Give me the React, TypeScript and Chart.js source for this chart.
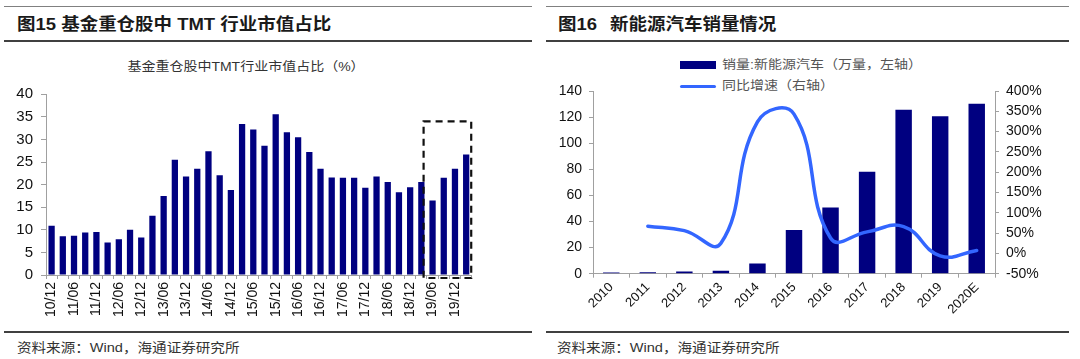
import React, { useEffect, useRef } from 'react';
import { Chart, registerables } from 'chart.js';

Chart.register(...registerables);

// ---------- Data ----------
const quarterLabels = [
  '10/12', '11/03', '11/06', '11/09', '11/12', '12/03', '12/06', '12/09', '12/12',
  '13/03', '13/06', '13/09', '13/12', '14/03', '14/06', '14/09', '14/12',
  '15/03', '15/06', '15/09', '15/12', '16/03', '16/06', '16/09', '16/12',
  '17/03', '17/06', '17/09', '17/12', '18/03', '18/06', '18/09', '18/12',
  '19/03', '19/06', '19/09', '19/12', '20/03',
];
const tmtShare = [
  10.9, 8.6, 8.7, 9.4, 9.5, 7.2, 7.9, 10.0, 8.3,
  13.1, 17.5, 25.5, 21.8, 23.5, 27.4, 22.1, 18.8,
  33.4, 32.2, 28.6, 35.6, 31.6, 30.5, 27.2, 23.5,
  21.6, 21.5, 21.5, 19.3, 21.8, 20.6, 18.3, 19.4,
  20.6, 16.5, 21.5, 23.5, 26.7,
];
const highlightFrom = 33.2;
const highlightTo = 37.45;
const highlightTop = 34;

const years = ['2010', '2011', '2012', '2013', '2014', '2015', '2016', '2017', '2018', '2019', '2020E'];
const nevSales = [1.0, 1.2, 1.6, 2.3, 7.9, 33.5, 50.8, 78.2, 125.7, 120.6, 130.3];
const nevGrowth = [null, 67, 56, 25, 324, 343, 38, 53, 66, -6, 7];

const leftTitle = '基金重仓股中TMT行业市值占比（%）';
const salesLegend = '销量:新能源汽车（万量，左轴）';
const growthLegend = '同比增速（右轴）';
const sourceText = '资料来源：Wind，海通证券研究所';

// ---------- Styles ----------
const NAVY = '#000080';
const LINE_BLUE = '#3366ff';
const AXIS_GRAY = '#a0a0a0';
const TICK_FONT = '"Liberation Sans", Arial, sans-serif';
const TEXT_FONT = '"Liberation Sans", Arial, "Noto Sans CJK SC", sans-serif';
const TEXT_SCALE = 1.12;

const dashedBoxPlugin = {
  id: 'dashedBox',
  afterDatasetsDraw(chart: any) {
    const { ctx, scales } = chart;
    const x = scales.x;
    const y = scales.y;
    const x0 = x.getPixelForValue(highlightFrom);
    const x1 = x.getPixelForValue(highlightTo);
    const y0 = y.getPixelForValue(highlightTop);
    const y1 = y.bottom + 3;
    ctx.save();
    ctx.setLineDash([7, 5]);
    ctx.lineWidth = 2.2;
    ctx.strokeStyle = '#111';
    ctx.strokeRect(x0, y0, x1 - x0, y1 - y0);
    ctx.restore();
  },
};

function LeftChart() {
  const ref = useRef<HTMLCanvasElement | null>(null);
  useEffect(() => {
    if (!ref.current) return;
    const chart = new Chart(ref.current, {
      type: 'bar',
      data: {
        labels: quarterLabels,
        datasets: [
          {
            data: tmtShare,
            backgroundColor: NAVY,
            borderWidth: 0,
            barPercentage: 0.56,
            categoryPercentage: 1,
          },
        ],
      },
      options: {
        animation: false,
        responsive: true,
        maintainAspectRatio: false,
        layout: { padding: { top: 39.3, right: 2, left: 0, bottom: 0 } },
        plugins: { legend: { display: false }, tooltip: { enabled: false } },
        scales: {
          x: {
            offset: true,
            grid: { display: true, drawOnChartArea: false, drawTicks: true, tickLength: 4, color: AXIS_GRAY, offset: true },
            border: { color: AXIS_GRAY, width: 1 },
            ticks: {
              autoSkip: false,
              minRotation: 90,
              maxRotation: 90,
              padding: 3,
              color: '#111',
              font: { family: TICK_FONT, size: 14 },
              callback: (_v: any, i: number) => (i % 2 === 0 ? quarterLabels[i] : ''),
            },
            afterFit: (s: any) => { s.height = 55; },
          },
          y: {
            min: 0,
            max: 40,
            ticks: { stepSize: 5, padding: 8, color: '#111', font: { family: TICK_FONT, size: 15 } },
            grid: { drawOnChartArea: false, tickLength: 5, color: AXIS_GRAY },
            border: { color: AXIS_GRAY, width: 1 },
            afterFit: (s: any) => { s.width = 46; },
          },
        },
      } as any,
      plugins: [dashedBoxPlugin],
    });
    return () => chart.destroy();
  }, []);
  return (
    <div style={{ position: 'absolute', left: 0, top: 55, width: 486, height: 275 }}>
      <canvas ref={ref} />
    </div>
  );
}

function RightChart() {
  const ref = useRef<HTMLCanvasElement | null>(null);
  useEffect(() => {
    if (!ref.current) return;
    const chart = new Chart(ref.current, {
      type: 'bar',
      data: {
        labels: years,
        datasets: [
          {
            type: 'line',
            data: nevGrowth,
            yAxisID: 'y1',
            borderColor: LINE_BLUE,
            borderWidth: 3.5,
            tension: 0.45,
            pointRadius: 0,
            borderCapStyle: 'round',
            fill: false,
            order: 0,
          },
          {
            type: 'bar',
            data: nevSales,
            yAxisID: 'y',
            backgroundColor: NAVY,
            borderWidth: 0,
            barPercentage: 0.45,
            categoryPercentage: 1,
            order: 1,
          },
        ],
      } as any,
      options: {
        animation: false,
        responsive: true,
        maintainAspectRatio: false,
        layout: { padding: { top: 36, right: 0, left: 0, bottom: 0 } },
        plugins: { legend: { display: false }, tooltip: { enabled: false } },
        scales: {
          x: {
            offset: true,
            grid: { display: true, drawOnChartArea: false, drawTicks: true, tickLength: 4, color: AXIS_GRAY, offset: true },
            border: { color: AXIS_GRAY, width: 1 },
            ticks: {
              autoSkip: false,
              minRotation: 45,
              maxRotation: 45,
              padding: 2,
              color: '#111',
              font: { family: TICK_FONT, size: 13 },
            },
            afterFit: (s: any) => { s.height = 56.3; },
          },
          y: {
            position: 'left',
            min: 0,
            max: 140,
            ticks: { stepSize: 20, padding: 7, color: '#111', font: { family: TICK_FONT, size: 14 } },
            grid: { drawOnChartArea: false, tickLength: 4, color: AXIS_GRAY },
            border: { color: AXIS_GRAY, width: 1 },
            afterFit: (s: any) => { s.width = 53; },
          },
          y1: {
            position: 'right',
            min: -50,
            max: 400,
            ticks: {
              stepSize: 50,
              padding: 7,
              color: '#111',
              font: { family: TICK_FONT, size: 14 },
              callback: (v: any) => `${v}%`,
            },
            grid: { drawOnChartArea: false, tickLength: 4, color: AXIS_GRAY },
            border: { color: AXIS_GRAY, width: 1 },
            afterFit: (s: any) => { s.width = 85; },
          },
        },
      } as any,
    });
    return () => chart.destroy();
  }, []);
  return (
    <div style={{ position: 'absolute', left: 540, top: 55, width: 540, height: 275 }}>
      <canvas ref={ref} />
    </div>
  );
}

function Txt(props: {
  x: number; y: number; size: number; bold?: boolean; color?: string; center?: boolean; children: any;
}) {
  const { x, y, size, bold, color, center, children } = props;
  return (
    <div
      style={{
        position: 'absolute',
        left: x,
        top: y - size,
        height: size * 2,
        lineHeight: `${size * 2}px`,
        fontSize: size,
        fontWeight: bold ? 700 : 400,
        color: color || '#222',
        whiteSpace: 'nowrap',
        fontFamily: TEXT_FONT,
        transform: center ? `translateX(-50%) scaleX(${TEXT_SCALE})` : `scaleX(${TEXT_SCALE})`,
        transformOrigin: center ? '50% 50%' : '0 50%',
      }}
    >
      {children}
    </div>
  );
}

function Rule(props: { x: number; w: number; y: number; h: number; c: string }) {
  return (
    <div style={{ position: 'absolute', left: props.x, top: props.y, width: props.w, height: props.h, background: props.c }} />
  );
}

export default function App() {
  useEffect(() => {
    document.body.style.margin = '0';
  }, []);
  return (
    <div style={{ position: 'absolute', left: 0, top: 0, width: 1080, height: 359, background: '#fff', overflow: 'hidden' }}>
      {/* left panel frame */}
      <Rule x={4} w={528} y={5.5} h={1.5} c="#808080" />
      <Rule x={4} w={528} y={40} h={2} c="#404040" />
      <Rule x={4} w={528} y={330.5} h={2.5} c="#404040" />
      {/* right panel frame */}
      <Rule x={546} w={523} y={5.5} h={1.5} c="#808080" />
      <Rule x={546} w={523} y={40} h={2} c="#404040" />
      <Rule x={546} w={523} y={330.5} h={2.5} c="#404040" />

      <Txt x={17} y={24.5} size={16.5} bold color="#1a1a1a">图15 基金重仓股中 TMT 行业市值占比</Txt>
      <Txt x={558} y={24.5} size={16.5} bold color="#1a1a1a">图16</Txt>
      <Txt x={610} y={24.5} size={16.5} bold color="#1a1a1a">新能源汽车销量情况</Txt>

      <Txt x={246} y={67.5} size={12.5} center color="#333">{leftTitle}</Txt>

      {/* legend of right chart */}
      <div style={{ position: 'absolute', left: 680, top: 61, width: 36, height: 8, background: NAVY }} />
      <Txt x={722} y={65} size={12.5} color="#555">{salesLegend}</Txt>
      <div style={{ position: 'absolute', left: 680, top: 84.5, width: 36, height: 3, background: LINE_BLUE, borderRadius: 1.5 }} />
      <Txt x={722} y={86} size={12.5} color="#555">{growthLegend}</Txt>

      <LeftChart />
      <RightChart />

      <Txt x={17} y={348} size={13} color="#333">{sourceText}</Txt>
      <Txt x={557} y={348} size={13} color="#333">{sourceText}</Txt>
    </div>
  );
}
